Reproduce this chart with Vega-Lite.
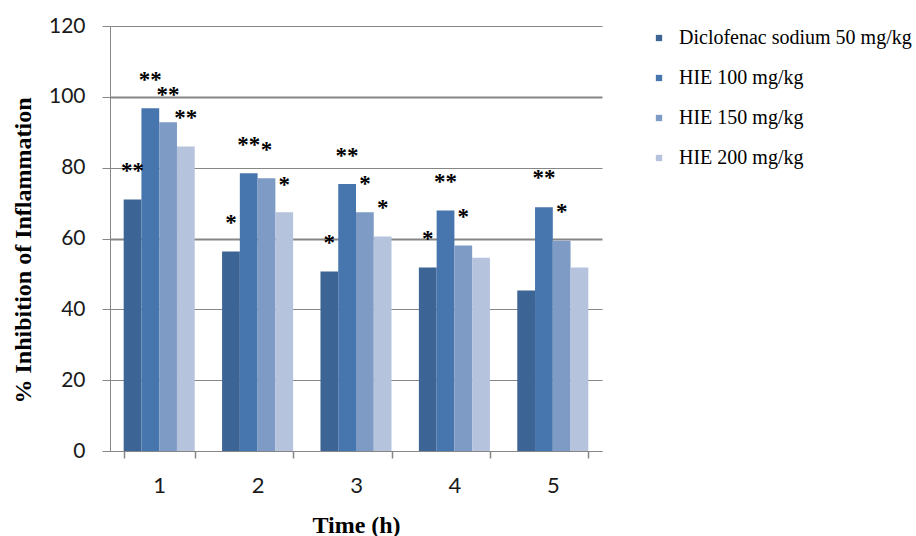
{
  "$schema": "https://vega.github.io/schema/vega-lite/v6.json",
  "autosize": {"type": "none"},
  "padding": {"left": 110, "top": 26, "right": 314, "bottom": 85},
  "width": 492,
  "height": 425,
  "background": "white",
  "config": {"view": {"stroke": null}},
  "data": {"values": [
    {"time": "1", "group": "Diclofenac sodium  50 mg/kg", "value": 71.0, "label": "**", "label_y": 80.4},
    {"time": "1", "group": "HIE 100 mg/kg", "value": 96.8, "label": "**", "label_y": 106.2},
    {"time": "1", "group": "HIE 150 mg/kg", "value": 92.8, "label": "**", "label_y": 102.0},
    {"time": "1", "group": "HIE 200 mg/kg", "value": 86.0, "label": "**", "label_y": 95.4},
    {"time": "2", "group": "Diclofenac sodium  50 mg/kg", "value": 56.3, "label": "*", "label_y": 65.7},
    {"time": "2", "group": "HIE 100 mg/kg", "value": 78.4, "label": "**", "label_y": 87.7},
    {"time": "2", "group": "HIE 150 mg/kg", "value": 77.0, "label": "*", "label_y": 86.4},
    {"time": "2", "group": "HIE 200 mg/kg", "value": 67.4, "label": "*", "label_y": 76.5},
    {"time": "3", "group": "Diclofenac sodium  50 mg/kg", "value": 50.7, "label": "*", "label_y": 60.2},
    {"time": "3", "group": "HIE 100 mg/kg", "value": 75.4, "label": "**", "label_y": 84.7},
    {"time": "3", "group": "HIE 150 mg/kg", "value": 67.4, "label": "*", "label_y": 76.9},
    {"time": "3", "group": "HIE 200 mg/kg", "value": 60.6, "label": "*", "label_y": 70.1},
    {"time": "4", "group": "Diclofenac sodium  50 mg/kg", "value": 51.8, "label": "*", "label_y": 61.3},
    {"time": "4", "group": "HIE 100 mg/kg", "value": 67.9, "label": "**", "label_y": 77.3},
    {"time": "4", "group": "HIE 150 mg/kg", "value": 58.0, "label": "*", "label_y": 67.6},
    {"time": "4", "group": "HIE 200 mg/kg", "value": 54.6, "label": "", "label_y": null},
    {"time": "5", "group": "Diclofenac sodium  50 mg/kg", "value": 45.3, "label": "", "label_y": null},
    {"time": "5", "group": "HIE 100 mg/kg", "value": 68.8, "label": "**", "label_y": 78.4},
    {"time": "5", "group": "HIE 150 mg/kg", "value": 59.4, "label": "*", "label_y": 69.0},
    {"time": "5", "group": "HIE 200 mg/kg", "value": 51.8, "label": "", "label_y": null}
  ]},
  "encoding": {
    "x": {
      "field": "time", "type": "nominal",
      "scale": {"paddingInner": 0.278, "paddingOuter": 0.139},
      "axis": {
        "title": "Time (h)", "labelAngle": 0, "tickBand": "extent",
        "domainColor": "#868686", "tickColor": "#868686", "tickSize": 7, "tickWidth": 1.5,
        "labelFont": "Lato", "labelFontSize": 22, "labelColor": "#1a1a1a", "labelPadding": 17,
        "titleFont": "Liberation Serif", "titleFontSize": 24, "titleFontWeight": "bold", "titleColor": "#000000",
        "titleBaseline": "alphabetic", "titleY": 81
      }
    },
    "xOffset": {"field": "group", "type": "nominal", "scale": {"paddingInner": 0, "paddingOuter": 0}, "sort": ["Diclofenac sodium  50 mg/kg", "HIE 100 mg/kg", "HIE 150 mg/kg", "HIE 200 mg/kg"]}
  },
  "layer": [
    {
      "mark": {"type": "bar"},
      "encoding": {
        "y": {
          "field": "value", "type": "quantitative",
          "scale": {"domain": [0, 120], "nice": false},
          "axis": {
            "title": "% Inhibition  of Inflammation", "values": [0, 20, 40, 60, 80, 100, 120],
            "grid": true, "gridColor": "#868686",
            "gridWidth": {"condition": {"test": "datum.value == 100 || datum.value == 60", "value": 2}, "value": 1},
            "domainColor": "#868686", "tickColor": "#868686", "tickSize": 8,
            "labelFont": "Lato", "labelFontSize": 21, "labelColor": "#1a1a1a", "labelPadding": 17,
            "titleFont": "Liberation Serif", "titleFontSize": 24, "titleFontWeight": "bold", "titleColor": "#000000",
            "titleBaseline": "alphabetic", "titleX": -80, "titleY": 224, "titleAngle": 270
          }
        },
        "color": {
          "field": "group", "type": "nominal",
          "scale": {
            "domain": ["Diclofenac sodium  50 mg/kg", "HIE 100 mg/kg", "HIE 150 mg/kg", "HIE 200 mg/kg"],
            "range": ["#3c6494", "#4775ad", "#7e9bc6", "#b5c3dd"]
          },
          "legend": {
            "title": null, "orient": "none", "legendX": 539, "legendY": 2,
            "symbolType": "square", "symbolSize": 40, "symbolStrokeWidth": 0,
            "labelFont": "Liberation Serif", "labelFontSize": 20, "labelColor": "#000000",
            "labelOffset": 10, "rowPadding": 20, "labelLimit": 400
          }
        }
      }
    },
    {
      "transform": [{"filter": "datum.label != ''"}],
      "mark": {"type": "text", "font": "Liberation Serif", "fontSize": 23, "fontWeight": "bold", "baseline": "alphabetic", "dy": 12, "color": "#000000"},
      "encoding": {
        "y": {"field": "label_y", "type": "quantitative"},
        "text": {"field": "label"}
      }
    }
  ]
}
